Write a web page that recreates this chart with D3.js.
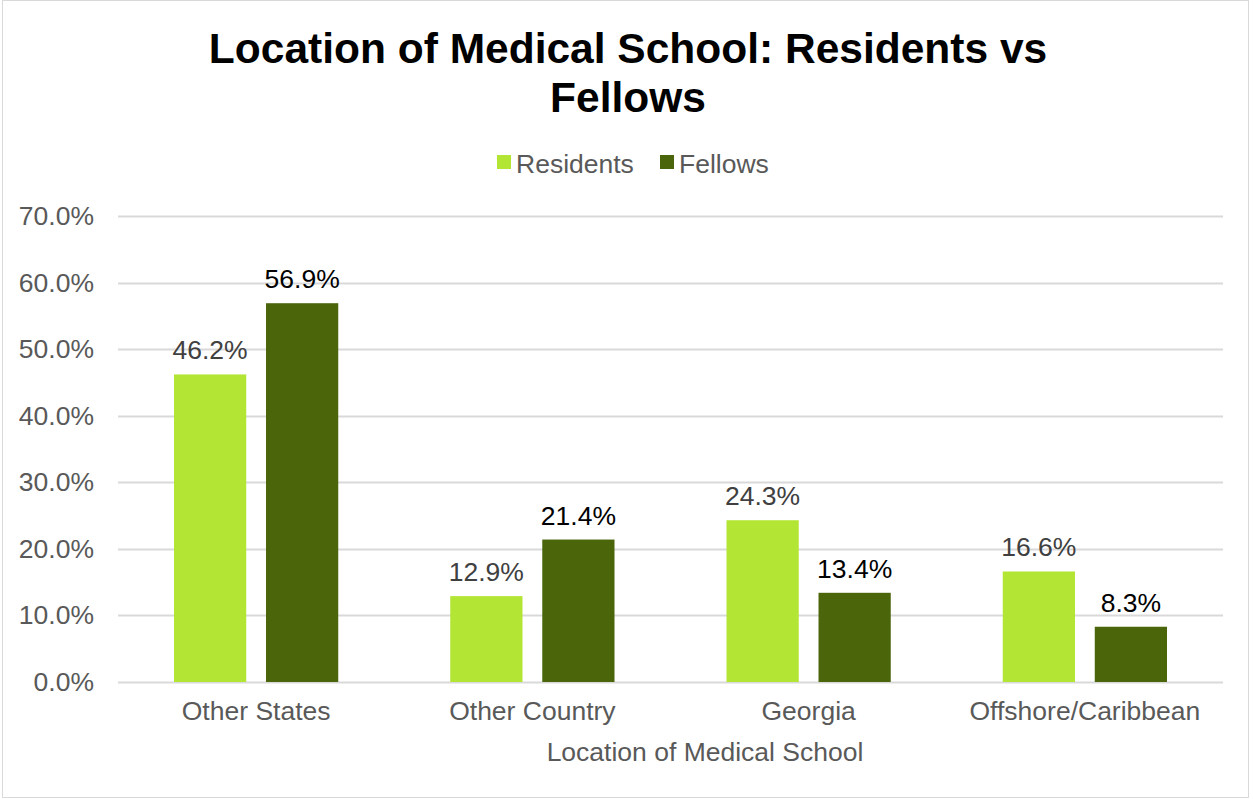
<!DOCTYPE html>
<html>
<head>
<meta charset="utf-8">
<script src="https://cdn.jsdelivr.net/npm/d3@7"></script>
<style>
  body { margin: 0; background: #fff; }
  text { font-family: "Liberation Sans", Arial, sans-serif; }
</style>
</head>
<body>
<div id="chart"></div>
<script>
// chart data
var categories = ["Other States", "Other Country", "Georgia", "Offshore/Caribbean"];
var seriesNames = ["Residents", "Fellows"];
var residents = [46.2, 12.9, 24.3, 16.6];
var fellows = [56.9, 21.4, 13.4, 8.3];
var yTicks = [0, 10, 20, 30, 40, 50, 60, 70];

var colors = ["#b3e535", "#4b650b"];
var labelColors = ["#404040", "#000000"];
var fontSize = 26.5;

var svgWidth = 1253, svgHeight = 799;
var margin = { top: 216, right: 30, bottom: 117, left: 118 };
var chartWidth = 1223 - margin.left;
var chartHeight = 682 - margin.top;

var svg = d3.select("#chart").append("svg")
  .attr("width", svgWidth)
  .attr("height", svgHeight);

// outer border
svg.append("rect")
  .attr("x", 2.5).attr("y", 0.5)
  .attr("width", 1246).attr("height", 797)
  .attr("fill", "#fff")
  .attr("stroke", "#d9d9d9");

// title
var title = svg.append("text")
  .attr("text-anchor", "middle")
  .attr("font-size", 42.5)
  .attr("font-weight", "bold")
  .attr("fill", "#000");
title.append("tspan").attr("x", 628).attr("y", 63).text("Location of Medical School: Residents vs");
title.append("tspan").attr("x", 628).attr("y", 112).text("Fellows");

// legend
var legend = svg.append("g").attr("transform", "translate(497, 164)");
var legendX = [0, 163];
seriesNames.forEach((name, i) => {
  legend.append("rect")
    .attr("x", legendX[i]).attr("y", -9)
    .attr("width", 14).attr("height", 14)
    .attr("fill", colors[i]);
  legend.append("text")
    .attr("x", legendX[i] + 19).attr("y", 9)
    .attr("font-size", fontSize)
    .attr("fill", "#595959")
    .text(name);
});

var chartGroup = svg.append("g")
  .attr("transform", `translate(${margin.left}, ${margin.top})`);

var yScale = d3.scaleLinear().domain([0, 70]).range([chartHeight, 0]);
var xScale = d3.scaleBand().domain(categories).range([0, chartWidth]).paddingInner(0).paddingOuter(0);
var xSub = d3.scaleBand().domain(seriesNames).range([56, xScale.bandwidth() - 56]).paddingInner(0.215);

// gridlines
chartGroup.append("g")
  .selectAll("line")
  .data(yTicks)
  .enter().append("line")
  .attr("x1", 0).attr("x2", chartWidth)
  .attr("y1", d => Math.round(yScale(d)) + 0.5)
  .attr("y2", d => Math.round(yScale(d)) + 0.5)
  .attr("stroke", "#d9d9d9")
  .attr("stroke-width", 2);

// y axis labels
var yAxis = d3.axisLeft(yScale)
  .tickValues(yTicks)
  .tickSize(0)
  .tickPadding(24)
  .tickFormat(d => d.toFixed(1) + "%");
var yG = chartGroup.append("g").call(yAxis);
yG.select(".domain").remove();
yG.selectAll("text")
  .attr("font-size", fontSize)
  .attr("fill", "#595959")
  .attr("font-family", "Liberation Sans, Arial, sans-serif");

// x axis labels
var xAxis = d3.axisBottom(xScale).tickSize(0).tickPadding(19);
var xG = chartGroup.append("g")
  .attr("transform", `translate(0, ${chartHeight})`)
  .call(xAxis);
xG.select(".domain").remove();
xG.selectAll("text")
  .attr("font-size", fontSize)
  .attr("fill", "#595959")
  .attr("font-family", "Liberation Sans, Arial, sans-serif");

// x axis title
svg.append("text")
  .attr("x", 705).attr("y", 761)
  .attr("text-anchor", "middle")
  .attr("font-size", fontSize)
  .attr("fill", "#595959")
  .text("Location of Medical School");

// bars
var series = [residents, fellows];
series.forEach((values, si) => {
  var g = chartGroup.append("g");
  g.selectAll("rect")
    .data(values)
    .enter().append("rect")
    .attr("x", (d, i) => xScale(categories[i]) + xSub(seriesNames[si]))
    .attr("y", d => yScale(d))
    .attr("width", xSub.bandwidth())
    .attr("height", d => chartHeight - yScale(d))
    .attr("fill", colors[si]);
  g.selectAll("text")
    .data(values)
    .enter().append("text")
    .attr("x", (d, i) => xScale(categories[i]) + xSub(seriesNames[si]) + xSub.bandwidth() / 2)
    .attr("y", d => yScale(d) - 15)
    .attr("text-anchor", "middle")
    .attr("font-size", fontSize)
    .attr("fill", labelColors[si])
    .text(d => d.toFixed(1) + "%");
});
</script>
</body>
</html>
